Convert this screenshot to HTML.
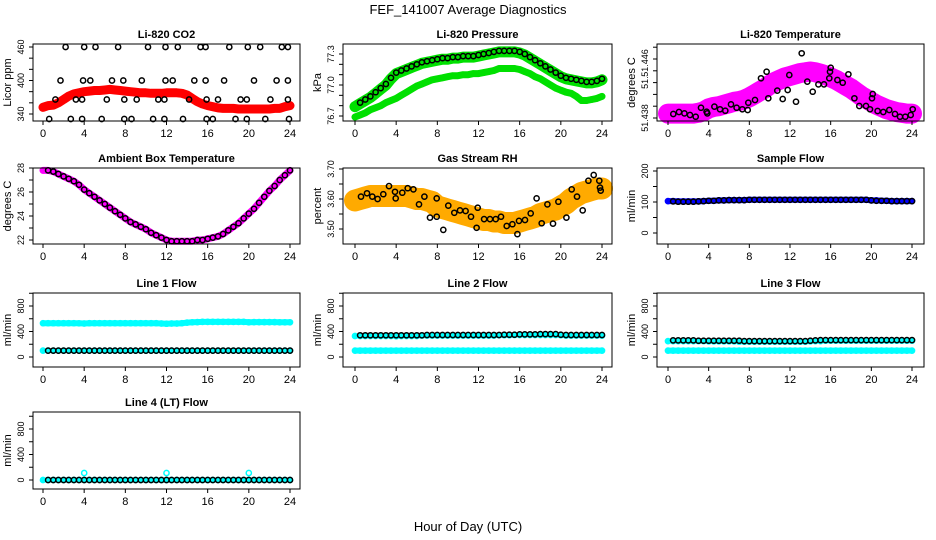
<!DOCTYPE html>
<html><head><meta charset="utf-8">
<style>
html,body{margin:0;padding:0;background:#fff;}
svg{display:block;font-family:"Liberation Sans",sans-serif;}
</style></head>
<body>
<svg id="chart" width="936" height="540" viewBox="0 0 936 540">
<rect width="936" height="540" fill="#fff"/>
<text x="468" y="14" text-anchor="middle" font-size="13">FEF_141007  Average Diagnostics</text>
<text x="468" y="531" text-anchor="middle" font-size="13">Hour of Day (UTC)</text>
</svg>
<script>
// ---- data ----
const xTicks = [0,4,8,12,16,20,24];
const co2Red = [352,355,356,360,366,372,376,378,380,381,382,382,383,384,383,382,381,380,379,378,378,377,377,377,378,378,378,377,374,368,362,358,355,353,351,350,350,350,349,349,349,349,349,349,349,350,350,353,355];
const co2BlackHours = [2.2,4.0,5.1,7.3,10.2,11.9,13.1,15.3,15.8,18.1,19.9,21.1,23.2,23.8, 1.7,3.9,4.6,6.7,7.8,9.6,11.9,12.6,14.7,15.8,17.6,20.5,22.7,23.8, 1.2,3.2,3.8,6.2,7.9,9.1,11.2,11.8,14.2,15.9,17.0,19.2,19.8,22.1,23.8, 0.6,2.7,3.8,5.7,7.9,8.6,10.7,11.8,13.6,15.9,16.5,18.7,19.8,21.6,23.9];
const co2BlackVals = [460,460,460,460,460,460,460,460,460,460,460,460,460,460, 400,400,400,400,400,400,400,400,400,400,400,400,400,400, 366,366,366,366,366,366,366,366,366,366,366,366,366,366,366, 331,331,331,331,331,331,331,331,331,331,331,331,331,331,331];
const presUpper = [76.79,76.82,76.85,76.88,76.92,76.96,77.0,77.06,77.11,77.13,77.15,77.17,77.19,77.21,77.22,77.23,77.24,77.25,77.25,77.26,77.26,77.27,77.27,77.27,77.28,77.29,77.3,77.31,77.32,77.32,77.32,77.32,77.31,77.29,77.26,77.23,77.2,77.17,77.14,77.11,77.08,77.06,77.05,77.04,77.03,77.02,77.02,77.03,77.05];
const presLower = [76.69,76.71,76.73,76.76,76.78,76.8,76.83,76.85,76.87,76.9,76.93,76.96,76.99,77.01,77.03,77.05,77.06,77.07,77.08,77.09,77.09,77.1,77.1,77.11,77.11,77.12,77.13,77.14,77.16,77.16,77.16,77.16,77.15,77.13,77.11,77.08,77.06,77.03,77.0,76.97,76.95,76.93,76.92,76.89,76.85,76.85,76.86,76.87,76.89];
const presBlack = [76.83,76.86,76.89,76.93,76.97,77.01,77.07,77.12,77.14,77.16,77.18,77.2,77.22,77.23,77.24,77.25,77.26,77.26,77.27,77.27,77.28,77.28,77.28,77.29,77.3,77.31,77.32,77.33,77.33,77.33,77.33,77.32,77.3,77.27,77.24,77.21,77.18,77.15,77.12,77.09,77.07,77.06,77.05,77.04,77.03,77.03,77.04,77.06];
const tempBand = [51.4386,51.4386,51.4386,51.4386,51.4386,51.4386,51.4387,51.4389,51.4393,51.4395,51.4396,51.4398,51.4400,51.4402,51.4403,51.4405,51.4408,51.4412,51.4416,51.4420,51.4425,51.4429,51.4432,51.4435,51.4437,51.4439,51.4441,51.4442,51.4443,51.4442,51.4440,51.4438,51.4435,51.4432,51.4428,51.4424,51.4420,51.4415,51.4410,51.4406,51.4402,51.4398,51.4395,51.4392,51.4390,51.4388,51.4387,51.4386,51.4386];
const tempBlackHours = [0.52,1.08,1.61,2.16,2.72,3.25,3.80,3.87,4.56,5.11,5.64,6.20,6.75,7.31,7.84,7.90,8.56,9.15,9.70,9.87,10.75,11.28,11.77,11.93,12.59,13.15,13.70,14.23,14.79,15.34,15.87,15.93,16.0,16.66,17.18,17.74,18.33,18.82,19.48,19.87,20.07,20.13,20.62,21.18,21.77,22.33,22.82,23.34,23.87,24.07];
const tempBlackVals = [51.43854,51.43881,51.43863,51.43841,51.43818,51.4394,51.43886,51.43863,51.43954,51.43918,51.43899,51.43985,51.4394,51.43918,51.43908,51.44008,51.44044,51.44338,51.44428,51.44067,51.44171,51.44058,51.4418,51.44383,51.44021,51.44677,51.44293,51.44157,51.44256,51.44256,51.44338,51.44428,51.44482,51.44315,51.44279,51.44392,51.44067,51.43963,51.43963,51.43918,51.44067,51.44125,51.43895,51.43881,51.43908,51.43854,51.43818,51.43818,51.43841,51.43918];
const ambBand = [27.8,27.8,27.7,27.5,27.3,27.1,26.9,26.6,26.2,25.9,25.6,25.3,25.0,24.7,24.4,24.1,23.8,23.5,23.3,23.1,22.9,22.6,22.4,22.2,22.0,21.9,21.9,21.9,21.9,21.9,22.0,22.0,22.1,22.2,22.3,22.5,22.8,23.1,23.4,23.8,24.2,24.6,25.1,25.6,26.1,26.5,27.0,27.4,27.8];
const ambBlack = [27.8,27.7,27.5,27.3,27.1,26.9,26.6,26.2,25.9,25.6,25.3,25.0,24.7,24.4,24.1,23.8,23.5,23.3,23.1,22.9,22.6,22.4,22.2,22.0,21.9,21.9,21.9,21.9,21.9,22.0,22.0,22.1,22.2,22.3,22.5,22.8,23.1,23.4,23.8,24.2,24.6,25.1,25.6,26.1,26.5,27.0,27.4,27.8];
const rhBand = [3.595,3.60,3.605,3.61,3.61,3.61,3.61,3.61,3.61,3.61,3.61,3.605,3.60,3.60,3.595,3.59,3.575,3.57,3.565,3.56,3.555,3.55,3.545,3.54,3.535,3.53,3.53,3.525,3.525,3.52,3.52,3.52,3.525,3.53,3.535,3.54,3.55,3.555,3.56,3.565,3.575,3.585,3.60,3.61,3.62,3.625,3.63,3.635,3.635];
const rhBlackHours = [0.58,1.17,1.68,2.20,2.75,3.30,3.89,3.95,4.60,5.12,5.67,6.22,6.74,7.29,7.94,7.94,8.58,9.07,9.65,10.20,10.75,11.27,11.82,11.92,12.54,13.12,13.67,14.19,14.74,15.29,15.78,15.94,16.52,17.07,17.65,18.14,18.69,19.24,19.76,20.54,21.06,21.57,22.12,22.68,23.19,23.74,23.81,23.87];
const rhBlackVals = [3.608,3.619,3.608,3.600,3.616,3.643,3.624,3.602,3.621,3.636,3.632,3.582,3.608,3.538,3.602,3.541,3.497,3.578,3.554,3.562,3.560,3.541,3.504,3.571,3.533,3.533,3.533,3.541,3.510,3.516,3.483,3.527,3.530,3.552,3.602,3.519,3.582,3.518,3.591,3.538,3.632,3.608,3.562,3.661,3.680,3.661,3.638,3.628];
const sampleBand = [103,103,102,102,102,102,102,103,104,104,105,105,106,106,106,106,107,107,107,107,107,107,107,107,107,107,107,107,107,107,107,107,107,107,107,107,107,107,107,107,105,105,104,104,103,103,103,103,103];
const sampleBlack = [102,101,101,101,101,102,103,104,104,105,105,106,106,106,106,107,107,107,107,107,107,107,107,107,107,107,107,107,107,107,107,107,107,107,107,107,107,107,107,105,104,104,104,103,103,103,103,103];
const line1Upper = [530,530,530,530,530,530,530,528,525,530,530,530,530,530,530,530,530,530,530,530,530,530,530,525,522,525,525,530,540,545,548,550,550,550,550,550,550,550,550,550,545,548,548,548,548,548,545,545,545];
const line1Lower = [100,100,100,100,100,100,100,100,100,100,100,100,100,100,100,100,100,100,100,100,100,100,100,100,100,100,100,100,100,100,100,100,100,100,100,100,100,100,100,100,100,100,100,100,100,100,100,100,100];
const line1Black = [100,100,100,100,100,100,100,100,100,100,100,100,100,100,100,100,100,100,100,100,100,100,100,100,100,100,100,100,100,100,100,100,100,100,100,100,100,100,100,100,100,100,100,100,100,100,100,100];
const line2Upper = [330,330,330,330,330,330,330,330,325,330,330,330,330,335,335,335,335,335,335,335,335,335,335,335,335,335,335,335,340,340,340,345,345,345,345,345,345,345,345,345,340,335,335,335,335,335,335,335,335];
const line2Lower = [100,100,100,100,100,100,100,100,100,100,100,100,100,100,100,100,100,100,100,100,100,100,100,100,100,100,100,100,100,100,100,100,100,100,100,100,100,100,100,100,100,100,100,100,100,100,100,100,100];
const line2Black = [340,340,340,340,340,340,340,340,340,340,340,340,340,345,345,345,345,345,345,345,345,345,345,345,345,345,345,345,350,350,350,355,355,355,355,360,360,360,360,350,345,345,345,345,345,345,345,345];
const line3Upper = [250,250,250,250,250,250,250,250,245,245,245,245,245,245,240,240,240,240,240,240,240,240,240,240,240,240,240,240,245,250,250,255,255,255,255,255,255,255,255,255,255,255,255,255,255,255,255,255,255];
const line3Lower = [100,100,100,100,100,100,100,100,100,100,100,100,100,100,100,100,100,100,100,100,100,100,100,100,100,100,100,100,100,100,100,100,100,100,100,100,100,100,100,100,100,100,100,100,100,100,100,100,100];
const line3Black = [260,260,260,260,260,255,255,255,255,255,255,255,255,255,250,250,250,250,250,250,250,250,250,250,250,250,250,255,260,265,265,265,265,265,265,265,265,265,265,265,265,265,265,265,265,265,265,265];
const line4Band = [0,0,0,0,0,0,0,0,0,0,0,0,0,0,0,0,0,0,0,0,0,0,0,0,0,0,0,0,0,0,0,0,0,0,0,0,0,0,0,0,0,0,0,0,0,0,0,0,0];
const line4SpikeHours = [4,12,20];
const line4SpikeVals = [110,110,110];
const line4Black = [0,0,0,0,0,0,0,0,0,0,0,0,0,0,0,0,0,0,0,0,0,0,0,0,0,0,0,0,0,0,0,0,0,0,0,0,0,0,0,0,0,0,0,0,0,0,0,0];

// hour grids (category axes)
const H49 = []; for (let i = 0; i <= 48; i++) H49.push(i * 0.5);
const H48 = []; for (let i = 1; i <= 48; i++) H48.push(i * 0.5);

const NS = 'http://www.w3.org/2000/svg';
const svg = document.getElementById('chart');
function mk(tag, attrs, parent) {
  const e = document.createElementNS(NS, tag);
  for (const k in attrs) e.setAttribute(k, attrs[k]);
  (parent || svg).appendChild(e);
  return e;
}
const cols = [{l:33,r:300,x0:43,x24:290},{l:343,r:612,x0:355,x24:602},{l:657,r:924,x0:668,x24:912}];
const rows = [{t:44,b:121},{t:168,b:244},{t:293,b:367},{t:412,b:489}];

function panel(p) {
  const c = cols[p.col], r = rows[p.row];
  const g = mk('g', {});
  
  
  const xs = h => c.x0 + (h / 24) * (c.x24 - c.x0);
  const ys = v => p.p0 + (v - p.v0) * (p.p1 - p.p0) / (p.v1 - p.v0);
  p.series.forEach(s => {
    const sg = mk('g', {}, g);
    
    
    if (s.band) {
      const pts = s.x.map((h, i) => xs(h).toFixed(1) + ',' + ys(s.y[i]).toFixed(1)).join(' ');
      mk('polyline', {points: pts, fill: 'none', stroke: s.color, 'stroke-width': s.band, 'stroke-linecap': 'round', 'stroke-linejoin': 'round'}, sg);
    }
    s.x.forEach((h, i) => {
      const pt = mk('circle', {cx: xs(h).toFixed(1), cy: ys(s.y[i]).toFixed(1), r: s.r || 2.6, fill: 'none', stroke: s.color, 'stroke-width': 1.5}, sg);
      
      
    });
  });
  const box = mk('rect', {x: c.l, y: r.t, width: c.r - c.l, height: r.b - r.t, fill: 'none', stroke: '#000', 'stroke-width': 1}, g);
  
  
  const t = mk('text', {x: (c.l + c.r) / 2, y: r.t - 6, 'text-anchor': 'middle', 'font-size': 11, 'font-weight': 'bold'}, g);
  t.textContent = p.title;
  
  
  xTicks.forEach(h => {
    mk('line', {x1: xs(h), x2: xs(h), y1: r.b, y2: r.b + 4, stroke: '#000'}, g);
    const tl = mk('text', {x: xs(h), y: r.b + 16, 'text-anchor': 'middle', 'font-size': 11}, g);
    tl.textContent = h;
    
    
  });
  p.yticks.forEach((v, i) => {
    const y = ys(v);
    mk('line', {x1: c.l - 4, x2: c.l, y1: y, y2: y, stroke: '#000'}, g);
    const lab = p.ylabels[i];
    if (lab) {
      const tx = c.l - 9;
      const ty = y + ((p.ylabelShift && p.ylabelShift[i]) || 0);
      const yl = mk('text', {x: tx, y: ty, 'text-anchor': 'middle', 'font-size': 9, transform: 'rotate(-90 ' + tx + ' ' + ty + ')'}, g);
      yl.textContent = lab;
      
      
    }
  });
  const ax = c.l - 22, ay = (r.t + r.b) / 2;
  const yt = mk('text', {x: ax, y: ay, 'text-anchor': 'middle', 'font-size': 11, transform: 'rotate(-90 ' + ax + ' ' + ay + ')'}, g);
  yt.textContent = p.ylab;
  
  
}

const flowTicks = [0,200,400,600,800,1000];
const flowLabels = ['0','','400','','800',''];

panel({name:'panel-co2', col:0,row:0,title:'Li-820 CO2',ylab:'Licor ppm',v0:340,p0:114,v1:460,p1:47,
  yticks:[340,360,380,400,420,440,460], ylabels:['340','','','400','','','460'],
  series:[{name:'co2-red',x:H49,y:co2Red,color:'#ff0000',band:9},{name:'co2-black',x:co2BlackHours,y:co2BlackVals,color:'#000'}]});
panel({name:'panel-pressure', col:1,row:0,title:'Li-820 Pressure',ylab:'kPa',v0:76.7,p0:116,v1:77.3,p1:54,
  yticks:[76.7,76.8,76.9,77.0,77.1,77.2,77.3], ylabels:['76.7','','','77.0','','','77.3'],
  series:[{name:'pressure-upper',x:H49,y:presUpper,color:'#00e000',band:11},{name:'pressure-lower',x:H49,y:presLower,color:'#00e000',band:7},{name:'pressure-black',x:H48,y:presBlack,color:'#000'}]});
panel({name:'panel-temperature', col:2,row:0,title:'Li-820 Temperature',ylab:'degrees C',v0:51.438,p0:118,v1:51.446,p1:59,
  yticks:[51.438,51.4396,51.4412,51.4428,51.4444,51.446,51.4476], ylabels:['51.438','','','51.','','51.446',''],
  ylabelShift:[0,0,0,0,0,4,0],
  series:[{name:'temperature-magenta',x:H49,y:tempBand,color:'#ff00ff',band:20},{name:'temperature-black',x:tempBlackHours,y:tempBlackVals,color:'#000'}]});
panel({name:'panel-ambient-box', col:0,row:1,title:'Ambient Box Temperature',ylab:'degrees C',v0:22,p0:240,v1:28,p1:168,
  yticks:[22,23,24,25,26,27,28], ylabels:['22','','24','','26','','28'],
  series:[{name:'ambient-magenta',x:H49,y:ambBand,color:'#ff00ff',band:7},{name:'ambient-black',x:H48,y:ambBlack,color:'#000'}]});
panel({name:'panel-gas-rh', col:1,row:1,title:'Gas Stream RH',ylab:'percent',v0:3.50,p0:229,v1:3.70,p1:169,
  yticks:[3.50,3.55,3.60,3.65,3.70], ylabels:['3.50','','3.60','','3.70'],
  series:[{name:'rh-orange',x:H49,y:rhBand,color:'#ffaa00',band:22},{name:'rh-black',x:rhBlackHours,y:rhBlackVals,color:'#000'}]});
panel({name:'panel-sample-flow', col:2,row:1,title:'Sample Flow',ylab:'ml/min',v0:0,p0:233,v1:200,p1:171,
  yticks:[0,50,100,150,200], ylabels:['0','','100','','200'],
  series:[{name:'sample-blue',x:H49,y:sampleBand,color:'#0000ff',band:6},{name:'sample-black',x:H48,y:sampleBlack,color:'#000'}]});
panel({name:'panel-line1', col:0,row:2,title:'Line 1 Flow',ylab:'ml/min',v0:0,p0:357,v1:800,p1:306,
  yticks:flowTicks, ylabels:flowLabels,
  series:[{name:'line1-upper',x:H49,y:line1Upper,color:'#00ffff',band:6},{name:'line1-lower',x:H49,y:line1Lower,color:'#00ffff',band:4},{name:'line1-black',x:H48,y:line1Black,color:'#000'}]});
panel({name:'panel-line2', col:1,row:2,title:'Line 2 Flow',ylab:'ml/min',v0:0,p0:357,v1:800,p1:306,
  yticks:flowTicks, ylabels:flowLabels,
  series:[{name:'line2-upper',x:H49,y:line2Upper,color:'#00ffff',band:5},{name:'line2-lower',x:H49,y:line2Lower,color:'#00ffff',band:6},{name:'line2-black',x:H48,y:line2Black,color:'#000'}]});
panel({name:'panel-line3', col:2,row:2,title:'Line 3 Flow',ylab:'ml/min',v0:0,p0:357,v1:800,p1:306,
  yticks:flowTicks, ylabels:flowLabels,
  series:[{name:'line3-upper',x:H49,y:line3Upper,color:'#00ffff',band:5},{name:'line3-lower',x:H49,y:line3Lower,color:'#00ffff',band:6},{name:'line3-black',x:H48,y:line3Black,color:'#000'}]});
panel({name:'panel-line4', col:0,row:3,title:'Line 4 (LT) Flow',ylab:'ml/min',v0:0,p0:480,v1:800,p1:429,
  yticks:flowTicks, ylabels:flowLabels,
  series:[{name:'line4-cyan',x:H49,y:line4Band,color:'#00ffff',band:5},{name:'line4-spikes',x:line4SpikeHours,y:line4SpikeVals,color:'#00ffff'},{name:'line4-black',x:H48,y:line4Black,color:'#000'}]});
</script>
</body></html>
